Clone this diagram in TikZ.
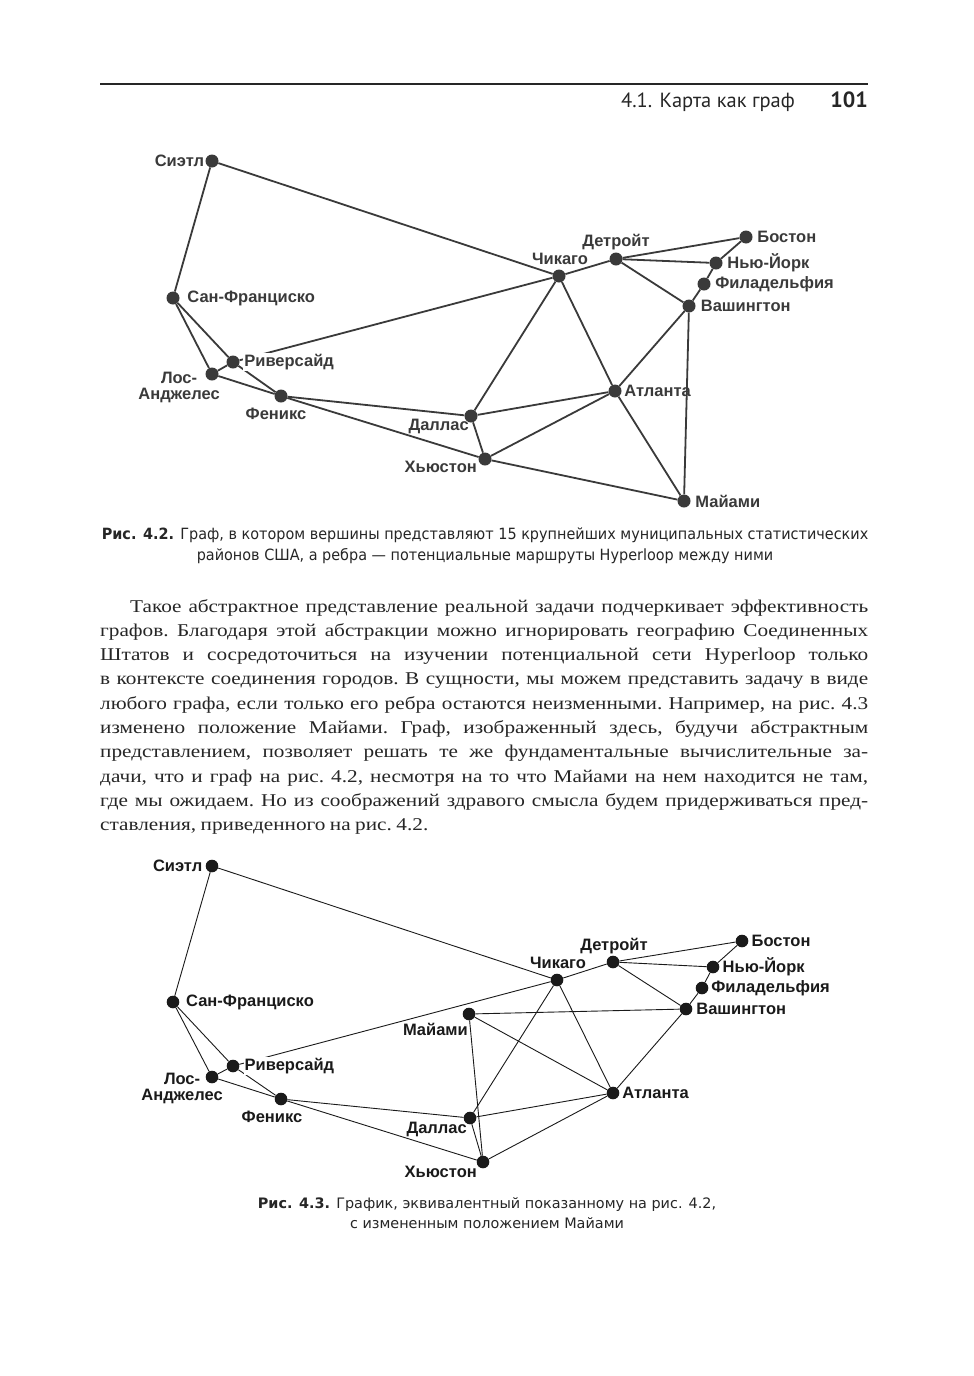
\documentclass[tikz,border=0pt]{standalone}
\usepackage{fontspec}
\setmainfont{Liberation Serif}
\newfontfamily\bodyfont{Liberation Serif}[FakeStretch=1.18]
\newfontfamily\headfont{PT Sans}
\newfontfamily\capfont{DejaVu Sans}
\newfontfamily\capnarrow{DejaVu Sans}[FakeStretch=0.93]
\newfontfamily\cityfont{Liberation Sans}
\usetikzlibrary{positioning}
\definecolor{inkA}{HTML}{3A3A3A}
\definecolor{inkB}{HTML}{1A1A1A}
\definecolor{bodyink}{HTML}{262626}

\begin{document}
\begin{tikzpicture}[
    x=1pt, y=-1pt,
    cityA/.style={circle, fill=inkA, inner sep=0pt, minimum size=13pt},
    cityB/.style={circle, fill=inkB, inner sep=0pt, minimum size=12.6pt},
    edgeA/.style={draw=inkA, line width=1.8pt},
    edgeB/.style={draw=inkB, line width=0.9pt},
    labA/.style={inner sep=1pt, text=inkA, align=center, font=\cityfont\bfseries\fontsize{16.5}{16}\selectfont},
    labB/.style={labA, text=inkB},
    caption/.style={align=center, text=bodyink, inner sep=0pt}
]
\fill[white] (0,0) rectangle (974,1376);
\useasboundingbox (0,0) rectangle (974,1376);

% Running head
\draw[line width=2.4pt, bodyink] (100,84) -- (868,84);
\node[anchor=base east, inner sep=0pt, text=bodyink, font=\headfont\fontsize{22}{24}\selectfont] (pagenum) at (868,107) {\bfseries 101};
\node[anchor=base east, inner sep=0pt, text=bodyink, font=\headfont\fontsize{20.5}{24}\selectfont] (runhead) at (795,107) {4.1. Карта как граф};

% Figure 4.2: cities
\node[cityA] (sea1) at (212,161) {};
\node[cityA] (sfo1) at (173,298) {};
\node[cityA] (riv1) at (233,362) {};
\node[cityA] (lax1) at (212,374) {};
\node[cityA] (phx1) at (281,396) {};
\node[cityA] (dal1) at (471,416) {};
\node[cityA] (hou1) at (485,459) {};
\node[cityA] (chi1) at (559,276) {};
\node[cityA] (det1) at (616,259) {};
\node[cityA] (bos1) at (746,237) {};
\node[cityA] (nyc1) at (716,263) {};
\node[cityA] (phl1) at (704,284) {};
\node[cityA] (was1) at (689,306) {};
\node[cityA] (atl1) at (615,391) {};
\node[cityA] (mia1) at (684,501) {};

% Figure 4.2: routes
\foreach \a/\b in {sea1/sfo1, sea1/chi1, sfo1/lax1, sfo1/riv1, lax1/riv1, lax1/phx1,
    riv1/phx1, riv1/chi1, phx1/dal1, phx1/hou1, dal1/hou1, dal1/chi1, dal1/atl1,
    hou1/atl1, hou1/mia1, chi1/det1, chi1/atl1, det1/bos1, det1/nyc1, det1/was1,
    bos1/nyc1, nyc1/phl1, phl1/was1, was1/atl1, was1/mia1, atl1/mia1}
  \draw[edgeA] (\a) -- (\b);

% Figure 4.2: labels
\node[labA, left=0pt of sea1] {Сиэтл};
\node[labA, right=6.5pt of sfo1] {Сан-Франциско};
\node[labA, fill=white, right=3.5pt of riv1] {Риверсайд};
\node[labA, anchor=north east] at ([shift={(9pt,3pt)}]lax1.center) {Лос-\\Анджелес};
\node[labA] at ([shift={(-5pt,-18pt)}]phx1.center) {Феникс};
\node[labA, anchor=east] at ([shift={(-1pt,-10pt)}]dal1.center) {Даллас};
\node[labA, anchor=east] at ([shift={(-7pt,-8pt)}]hou1.center) {Хьюстон};
\node[labA] at ([shift={(1pt,17pt)}]chi1.center) {Чикаго};
\node[labA] at ([shift={(0pt,17pt)}]det1.center) {Детройт};
\node[labA, right=3.5pt of bos1] {Бостон};
\node[labA, right=3.5pt of nyc1] {Нью-Йорк};
\node[labA, right=3.5pt of phl1] {Филадельфия};
\node[labA, right=4pt of was1] {Вашингтон};
\node[labA, right=1.5pt of atl1] {Атланта};
\node[labA, right=3.5pt of mia1] {Майами};

\node[caption, font=\capnarrow\fontsize{15.5}{21}\selectfont] (cap1) at (485,546) {\textbf{Рис. 4.2.} Граф, в котором вершины представляют 15 крупнейших муниципальных статистических\\районов США, а ребра — потенциальные маршруты Hyperloop между ними};

% Body text
\node[anchor=base west, text width=768pt, align=justify, inner sep=0pt, text=bodyink,
      font=\bodyfont\fontsize{18}{24.3}\selectfont] (body) at (100,612)
  {\frenchspacing\spaceskip=0.25em plus 2em minus 0.12em\relax\hyphenpenalty=10000\relax
   \hspace*{30pt}Такое абстрактное представление реальной задачи подчеркивает эффективность\linebreak
   графов. Благодаря этой абстракции можно игнорировать географию Соединенных\linebreak
   Штатов и сосредоточиться на изучении потенциальной сети Hyperloop только\linebreak
   в контексте соединения городов. В сущности, мы можем представить задачу в виде\linebreak
   любого графа, если только его ребра остаются неизменными. Например, на рис. 4.3\linebreak
   изменено положение Майами. Граф, изображенный здесь, будучи абстрактным\linebreak
   представлением, позволяет решать те же фундаментальные вычислительные за-\linebreak
   дачи, что и граф на рис. 4.2, несмотря на то что Майами на нем находится не там,\linebreak
   где мы ожидаем. Но из соображений здравого смысла будем придерживаться пред-\linebreak
   ставления, приведенного на рис. 4.2.};

% Figure 4.3: cities
\node[cityB] (sea2) at (212,866) {};
\node[cityB] (sfo2) at (173,1002) {};
\node[cityB] (riv2) at (233,1066) {};
\node[cityB] (lax2) at (212,1077) {};
\node[cityB] (phx2) at (281,1099) {};
\node[cityB] (mia2) at (469,1014) {};
\node[cityB] (dal2) at (470,1118) {};
\node[cityB] (hou2) at (483,1162) {};
\node[cityB] (chi2) at (557,980) {};
\node[cityB] (det2) at (613,962) {};
\node[cityB] (bos2) at (742,941) {};
\node[cityB] (nyc2) at (713,967) {};
\node[cityB] (phl2) at (702,988) {};
\node[cityB] (was2) at (686,1009) {};
\node[cityB] (atl2) at (613,1093) {};

% Figure 4.3: routes
\foreach \a/\b in {sea2/sfo2, sea2/chi2, sfo2/lax2, sfo2/riv2, lax2/riv2, lax2/phx2,
    riv2/phx2, riv2/chi2, phx2/dal2, phx2/hou2, dal2/hou2, dal2/chi2, dal2/atl2,
    hou2/atl2, hou2/mia2, chi2/det2, chi2/atl2, det2/bos2, det2/nyc2, det2/was2,
    bos2/nyc2, nyc2/phl2, phl2/was2, was2/atl2, was2/mia2, atl2/mia2}
  \draw[edgeB] (\a) -- (\b);

% Figure 4.3: labels
\node[labB, left=2pt of sea2] {Сиэтл};
\node[labB, right=5.5pt of sfo2] {Сан-Франциско};
\node[labB, fill=white, right=4pt of riv2] {Риверсайд};
\node[labB, anchor=north east] at ([shift={(12pt,5pt)}]lax2.center) {Лос-\\Анджелес};
\node[labB] at ([shift={(-9pt,-17.5pt)}]phx2.center) {Феникс};
\node[labB, anchor=east] at ([shift={(0pt,-15pt)}]mia2.center) {Майами};
\node[labB, anchor=east] at ([shift={(-2pt,-11pt)}]dal2.center) {Даллас};
\node[labB, anchor=east] at ([shift={(-5pt,-10pt)}]hou2.center) {Хьюстон};
\node[labB] at ([shift={(1pt,17pt)}]chi2.center) {Чикаго};
\node[labB] at ([shift={(1pt,16pt)}]det2.center) {Детройт};
\node[labB, right=2pt of bos2] {Бостон};
\node[labB, right=2pt of nyc2] {Нью-Йорк};
\node[labB, right=1.7pt of phl2] {Филадельфия};
\node[labB, right=2.7pt of was2] {Вашингтон};
\node[labB, right=1.7pt of atl2] {Атланта};

\node[caption, font=\capfont\fontsize{14.4}{20}\selectfont] (cap2) at (487,1213) {\textbf{Рис. 4.3.} График, эквивалентный показанному на рис. 4.2,\\с измененным положением Майами};
\end{tikzpicture}
\end{document}
